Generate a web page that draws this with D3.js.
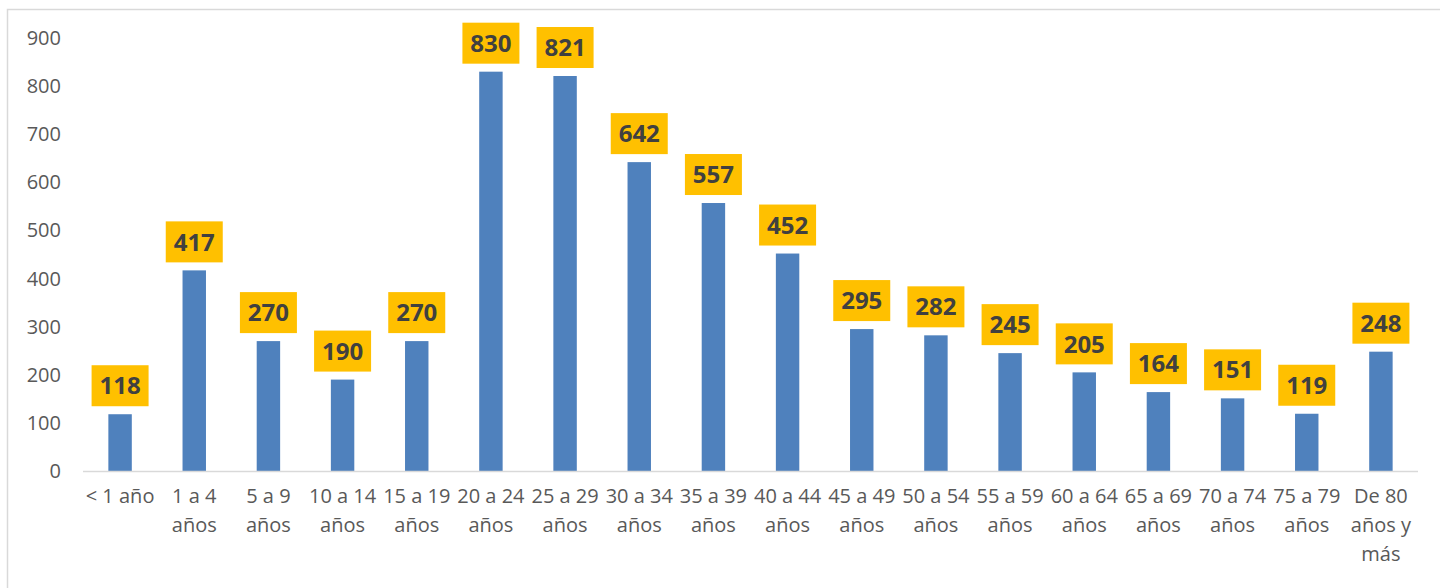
<!DOCTYPE html>
<head>
  <meta charset="utf-8">
  <title>Casos por grupo de edad</title>
  <script src="https://cdn.jsdelivr.net/npm/d3@7"></script>
  <style>
    body{ margin:0; background:#fff; }
    #chart-box{ width:1440px; height:588px; position:relative; }
    .tick-lbl{ font-family:"Open Sans", sans-serif; font-size:20px; fill:#595959; }
    .val-lbl{ font-family:"Open Sans", sans-serif; font-size:24px; font-weight:bold; fill:#404040; }
  </style>
</head>
<body>
<div id="chart-box"></div>
<script>
// datos
const categorias = ['< 1 año','1 a 4 años','5 a 9 años','10 a 14 años','15 a 19 años','20 a 24 años',
  '25 a 29 años','30 a 34 años','35 a 39 años','40 a 44 años','45 a 49 años','50 a 54 años',
  '55 a 59 años','60 a 64 años','65 a 69 años','70 a 74 años','75 a 79 años','De 80 años y más'];
const valores = [118,417,270,190,270,830,821,642,557,452,295,282,245,205,164,151,119,248];
const ticksY = [0,100,200,300,400,500,600,700,800,900];

const width = 1440, height = 588;
const svg = d3.select('#chart-box').append('svg')
  .attr('width', width).attr('height', height);

// borde del área del gráfico
svg.append('rect')
  .attr('x', 7.5).attr('y', 9.5)
  .attr('width', width).attr('height', height)
  .attr('fill', 'none').attr('stroke', '#d9d9d9').attr('stroke-width', 1.5);

const x = d3.scaleBand()
  .domain(categorias)
  .range([83, 1418])
  .paddingInner(0.684)
  .paddingOuter(0.342);

const y = d3.scaleLinear().domain([0, 900]).range([471, 38]);

// etiquetas del eje Y
svg.append('g').selectAll('text')
  .data(ticksY).enter().append('text')
  .attr('class', 'tick-lbl')
  .attr('x', 61).attr('y', d => y(d))
  .attr('dy', '0.35em')
  .attr('text-anchor', 'end')
  .text(d => d);

// barras
svg.append('g').selectAll('rect')
  .data(valores).enter().append('rect')
  .attr('x', (d, i) => x(categorias[i]))
  .attr('y', d => y(d))
  .attr('width', x.bandwidth())
  .attr('height', d => y(0) - y(d))
  .attr('fill', '#4f81bd');

// línea del eje X
svg.append('line')
  .attr('x1', 83).attr('x2', 1418)
  .attr('y1', y(0) + 0.5).attr('y2', y(0) + 0.5)
  .attr('stroke', '#d9d9d9').attr('stroke-width', 1.5);

// etiquetas de categoría con ajuste de línea
const step = x.step();
const catG = svg.append('g');
categorias.forEach((c, i) => {
  const cx = x(c) + x.bandwidth() / 2;
  const t = catG.append('text')
    .attr('class', 'tick-lbl')
    .attr('text-anchor', 'middle')
    .attr('x', cx).attr('y', 503).attr('dy', '0.35em');
  const palabras = c.split(' ');
  let linea = [];
  let ts = t.append('tspan').attr('x', cx).attr('dy', 0);
  palabras.forEach(p => {
    linea.push(p);
    ts.text(linea.join(' '));
    if (ts.node().getComputedTextLength() > step + 1 && linea.length > 1) {
      linea.pop();
      ts.text(linea.join(' '));
      linea = [p];
      ts = t.append('tspan').attr('x', cx).attr('dy', 29).text(p);
    }
  });
});

// etiquetas de valor
const etiquetas = svg.append('g').selectAll('g')
  .data(valores).enter().append('g')
  .attr('transform', (d, i) => `translate(${x(categorias[i]) + x.bandwidth() / 2},${y(d) - 8})`);
etiquetas.append('rect')
  .attr('x', -28.5).attr('y', -41)
  .attr('width', 57).attr('height', 41)
  .attr('fill', '#ffc000');
etiquetas.append('text')
  .attr('class', 'val-lbl')
  .attr('text-anchor', 'middle')
  .attr('y', -20.5).attr('dy', '0.36em')
  .text(d => d);
</script>
</body>
